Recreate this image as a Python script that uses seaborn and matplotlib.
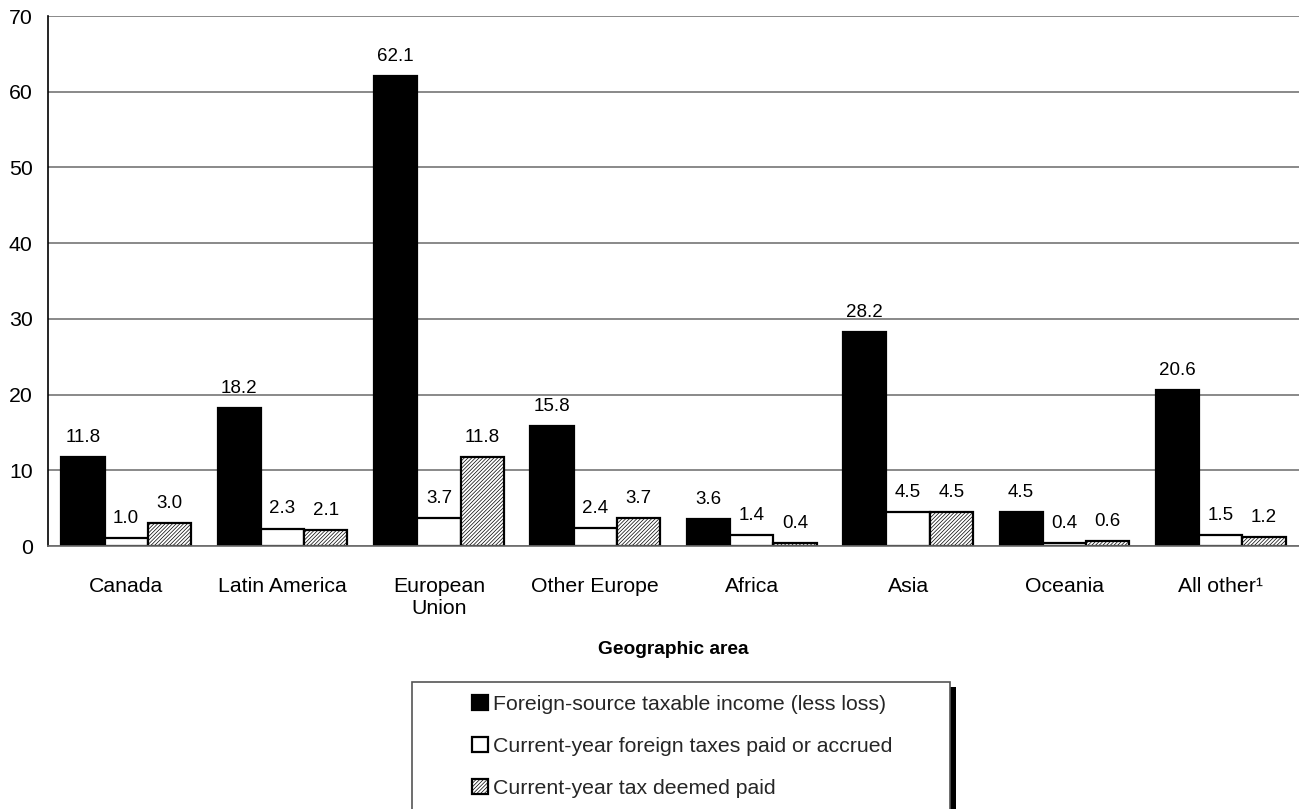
import pandas as pd
import seaborn as sns
import matplotlib.pyplot as plt
from matplotlib.patches import Patch, Rectangle

sns.set_theme(style="white")
plt.rcParams['font.family'] = ['Liberation Sans', 'DejaVu Sans']
plt.rcParams['hatch.linewidth'] = 0.5

areas = ["Canada", "Latin America", "European\nUnion", "Other Europe",
         "Africa", "Asia", "Oceania", "All other\u00b9"]
series = ["Foreign-source taxable income (less loss)",
          "Current-year foreign taxes paid or accrued",
          "Current-year tax deemed paid"]
income = [11.8, 18.2, 62.1, 15.8, 3.6, 28.2, 4.5, 20.6]
taxes_paid = [1.0, 2.3, 3.7, 2.4, 1.4, 4.5, 0.4, 1.5]
deemed_paid = [3.0, 2.1, 11.8, 3.7, 0.4, 4.5, 0.6, 1.2]

df = pd.DataFrame({
    "area": areas * 3,
    "series": [series[0]] * 8 + [series[1]] * 8 + [series[2]] * 8,
    "value": income + taxes_paid + deemed_paid,
})

W, H = 1299, 809
fig = plt.figure(figsize=(W / 100, H / 100), dpi=100)
ax = fig.add_axes([48 / W, 1 - 546 / H, (W - 48) / W, (546 - 16) / H])

sns.barplot(data=df, x="area", y="value", hue="series", hue_order=series,
            palette=["black", "white", "white"], edgecolor="black",
            linewidth=1.6, width=0.83, gap=0, saturation=1,
            legend=False, ax=ax)

for bar in ax.containers[2]:
    bar.set_hatch("/////////")

for c in ax.containers:
    ax.bar_label(c, fmt="%.1f", padding=8, fontsize=13.5, color="black")

ax.set_ylim(0, 70)
ax.set_xlim(-0.5, 7.5)
ax.set_yticks(range(0, 71, 10))
ax.yaxis.grid(True, color="#6a6a6a", linewidth=1.1)
ax.set_axisbelow(True)
for s in ["top", "right"]:
    ax.spines[s].set_visible(False)
ax.spines["left"].set_color("black")
ax.spines["left"].set_linewidth(1.2)
ax.spines["bottom"].set_color("#6a6a6a")
ax.spines["bottom"].set_linewidth(1.2)
ax.tick_params(axis="y", length=0, pad=11, labelsize=15.3, labelcolor="black")
ax.tick_params(axis="x", length=0, pad=22, labelsize=15.3, labelcolor="black")
ax.set_ylabel("")
ax.set_xlabel("Geographic area", fontsize=13.8, fontweight="bold",
              labelpad=17, color="black")

# legend box with shadow strip on the right
fig.patches.append(Rectangle((950 / W, 0), 6 / W, 1 - 687 / H,
                             transform=fig.transFigure, facecolor="black",
                             edgecolor="none", zorder=1))
fig.patches.append(Rectangle((412 / W, -0.01), (950 - 412) / W, 1.01 - 682 / H,
                             transform=fig.transFigure, facecolor="white",
                             edgecolor="#555555", linewidth=1.2, zorder=2))

handles = [
    Patch(facecolor="black", edgecolor="black", linewidth=1.6),
    Patch(facecolor="white", edgecolor="black", linewidth=1.6),
    Patch(facecolor="white", edgecolor="black", linewidth=1.6, hatch="/////////"),
]
fig.legend(handles, series, loc="upper left",
           bbox_to_anchor=(472 / W, 1 - 695 / H), frameon=False,
           fontsize=15.3, handlelength=0.75, handleheight=0.7,
           handletextpad=0.25, labelspacing=1.09, borderpad=0,
           borderaxespad=0)

fig.savefig("out.png", dpi=100)
